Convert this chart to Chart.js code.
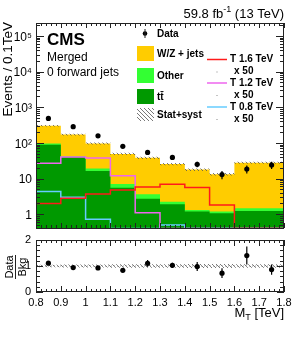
<!DOCTYPE html>
<html>
<head>
<meta charset="utf-8">
<script src="https://cdn.jsdelivr.net/npm/chart.js@4.4.2/dist/chart.umd.min.js"></script>
<style>
  html, body { margin: 0; padding: 0; background: #fff; }
  #wrap { position: relative; width: 299px; height: 337px; }
  #main { position: absolute; left: 0; top: 0; }
  #ratio { position: absolute; left: 0; top: 232px; }
</style>
</head>
<body>
<div id="wrap">
  <canvas id="main" width="299" height="232"></canvas>
  <canvas id="ratio" width="299" height="105"></canvas>
</div>
<script>
// bin edges and centres in M_T (TeV)
const edges = [0.8, 0.9, 1.0, 1.1, 1.2, 1.3, 1.4, 1.5, 1.6, 1.7, 1.8];
const centers = [0.85, 0.95, 1.05, 1.15, 1.25, 1.35, 1.45, 1.55, 1.65, 1.75];

// backgrounds (events / 0.1 TeV)
const ttbar = [160, 88, 40, 16.3, 5.5, 2.7, 1.9, 1.19, 1.07, 1.23];
const other = [14, 8, 2.5, 2.7, 1.5, 0.9, 0.35, 0.12, 0.12, 0.24];
const wzJets = [263, 207, 128, 77, 42, 34.4, 23.3, 16.5, 12.0, 26.3];
const bkgRelErr = [0.05, 0.05, 0.06, 0.06, 0.07, 0.07, 0.07, 0.08, 0.08, 0.07];

// data
const dataVals = [485, 285, 158, 80, 54, 39, 25, 12.9, 18.5, 24];
const dataErr = [22, 12, 8.5, 6, 6.5, 3.8, 4.4, 3.3, 4.6, 5.5];

// signals (already x 50)
const sigT16 = [1.1, 2.0, 2.8, 3.7, 4.8, 5.8, 6.9, 5.6, 1.8, 0.4];
const sigT12 = [16, 27, 40, 37.5, 11.9, 1.1, 0.4, 0.4, 0.4, 0.4];
const sigT08 = [19, 4.3, 3.0, 0.72, 0.4, 0.4, 0.5, 0.4, 0.4, 0.4];

const yDecades = [1, 10, 100, 1000, 10000, 100000];
const yDecadeLabels = ['1', '10', '10²', '10³', '10⁴', '10⁵'];
const ratioTicks = [0, 1, 2];

const FONT = "'Liberation Sans', Arial, sans-serif";
const C_WZ = '#ffcc00', C_OTHER = '#33ff33', C_TT = '#009900';
const C_T16 = '#ff1a1a', C_T12 = '#ee66ee', C_T08 = '#66ccff';

// cumulative stack
const stackOther = ttbar.map((v, i) => v + other[i]);
const stackTotal = stackOther.map((v, i) => v + wzJets[i]);
const ratioVals = dataVals.map((v, i) => v / stackTotal[i]);
const ratioErr = dataErr.map((v, i) => v / stackTotal[i]);

function steps(vals) {
  return edges.map((e, i) => ({ x: e, y: vals[Math.min(i, vals.length - 1)] }));
}
function hatch(ctx) {
  const c = document.createElement('canvas');
  c.width = 4; c.height = 4;
  const g = c.getContext('2d');
  g.strokeStyle = '#555';
  g.lineWidth = 0.8;
  g.beginPath();
  g.moveTo(-1, -1); g.lineTo(5, 5);
  g.moveTo(-1, 3); g.lineTo(1, 5);
  g.moveTo(3, -1); g.lineTo(5, 1);
  g.stroke();
  return ctx.createPattern(c, 'repeat');
}

function line(ctx, x1, y1, x2, y2) {
  ctx.beginPath(); ctx.moveTo(x1, y1); ctx.lineTo(x2, y2); ctx.stroke();
}

function drawXTicks(ctx, a, xs, majorLen, minorLen) {
  for (let i = 0; i <= 50; i++) {
    const px = Math.round(xs.getPixelForValue(0.8 + i * 0.02)) + 0.5;
    const len = i % 5 === 0 ? majorLen : minorLen;
    line(ctx, px, a.bottom, px, a.bottom - len);
    line(ctx, px, a.top, px, a.top + len);
  }
}

function drawErrBars(chart, vals, errs) {
  const ctx = chart.ctx, xs = chart.scales.x, ys = chart.scales.y;
  ctx.save();
  ctx.strokeStyle = '#000';
  ctx.lineWidth = 1.2;
  vals.forEach((v, i) => {
    const px = xs.getPixelForValue(centers[i]);
    line(ctx, px, ys.getPixelForValue(v + errs[i]), px, ys.getPixelForValue(v - errs[i]));
  });
  ctx.restore();
}

function fixedWidth(w) {
  return s => { s.width = w; s.paddingTop = 0; s.paddingBottom = 0; };
}

const mainDecor = {
  id: 'mainDecor',
  afterDatasetsDraw(chart) {
    drawErrBars(chart, dataVals, dataErr);
  },
  afterDraw(chart) {
    const ctx = chart.ctx, a = chart.chartArea, xs = chart.scales.x, ys = chart.scales.y;
    ctx.save();
    ctx.strokeStyle = '#222';
    ctx.lineWidth = 1;
    ctx.strokeRect(a.left + 0.5, a.top + 0.5, a.right - a.left - 1, a.bottom - a.top);
    // log ticks, left and right
    for (let d = 0.1; d <= 1e5; d *= 10) {
      for (let k = 1; k <= 9; k++) {
        const v = k * d;
        if (v < ys.min || v > ys.max) continue;
        const py = Math.round(ys.getPixelForValue(v)) + 0.5;
        const len = k === 1 ? 8 : 4;
        line(ctx, a.left, py, a.left + len, py);
        line(ctx, a.right, py, a.right - len, py);
      }
    }
    drawXTicks(ctx, a, xs, 5, 3);

    ctx.fillStyle = '#000';
    // y title
    ctx.save();
    ctx.translate(12, a.top - 1);
    ctx.rotate(-Math.PI / 2);
    ctx.font = '13.5px ' + FONT;
    ctx.textAlign = 'right';
    ctx.textBaseline = 'alphabetic';
    ctx.fillText('Events / 0.1TeV', 0, 0);
    ctx.restore();

    // lumi label
    ctx.textBaseline = 'alphabetic';
    ctx.textAlign = 'left';
    const big = '13px ' + FONT, small = '9px ' + FONT;
    ctx.font = big; const w1 = ctx.measureText('59.8 fb').width;
    ctx.font = small; const w2 = ctx.measureText('-1').width;
    ctx.font = big; const w3 = ctx.measureText(' (13 TeV)').width;
    let x0 = a.right - (w1 + w2 + w3);
    ctx.fillText('59.8 fb', x0, 18);
    ctx.font = small; ctx.fillText('-1', x0 + w1, 12);
    ctx.font = big; ctx.fillText(' (13 TeV)', x0 + w1 + w2, 18);

    // CMS label
    ctx.font = 'bold 17px ' + FONT;
    ctx.fillText('CMS', 47, 45);
    ctx.font = '12px ' + FONT;
    ctx.fillText('Merged', 47, 61);
    ctx.fillText('0 forward jets', 47, 76);

    // legend, left column
    ctx.font = 'bold 10px ' + FONT;
    ctx.textBaseline = 'middle';
    ctx.beginPath(); ctx.arc(145, 33.5, 2.3, 0, Math.PI * 2); ctx.fill();
    ctx.lineWidth = 1;
    line(ctx, 145, 29, 145, 38);
    ctx.fillText('Data', 157, 34);
    const boxes = [[C_WZ, 'W/Z + jets', 46], [C_OTHER, 'Other', 68], [C_TT, 't\u0074\u0304', 89]];
    boxes.forEach(([col, txt, y]) => {
      ctx.fillStyle = col;
      ctx.fillRect(137, y, 17, 15);
      ctx.fillStyle = '#000';
      ctx.fillText(txt, 157, y + 8);
    });
    ctx.fillStyle = hatch(ctx);
    ctx.fillRect(137, 108, 17, 13);
    ctx.fillStyle = '#000';
    ctx.fillText('Stat+syst', 157, 115.5);

    // legend, signals
    const sigs = [[C_T16, 'T 1.6 TeV', 59.5], [C_T12, 'T 1.2 TeV', 83], [C_T08, 'T 0.8 TeV', 107]];
    sigs.forEach(([col, txt, y]) => {
      ctx.strokeStyle = col;
      ctx.lineWidth = 1.5;
      line(ctx, 207, y, 227, y);
      ctx.fillStyle = '#000';
      ctx.fillText(txt, 230, y);
      ctx.fillText('x 50', 234, y + 12);
      ctx.fillStyle = '#888';
      ctx.fillRect(216.5, y + 12, 1, 1);
      ctx.fillStyle = '#000';
    });
    ctx.restore();
  }
};

const ratioDecor = {
  id: 'ratioDecor',
  afterDatasetsDraw(chart) {
    drawErrBars(chart, ratioVals, ratioErr);
  },
  afterDraw(chart) {
    const ctx = chart.ctx, a = chart.chartArea, xs = chart.scales.x, ys = chart.scales.y;
    ctx.save();
    ctx.strokeStyle = '#222';
    ctx.lineWidth = 1;
    ctx.strokeRect(a.left + 0.5, a.top + 0.5, a.right - a.left - 1, a.bottom - a.top - 1);
    for (let i = 0; i <= 10; i++) {
      const py = Math.round(ys.getPixelForValue(i * 0.2)) + 0.5;
      const len = i % 5 === 0 ? 7 : 4;
      line(ctx, a.left, py, a.left + len, py);
      line(ctx, a.right, py, a.right - len, py);
    }
    drawXTicks(ctx, a, xs, 6, 3);

    ctx.fillStyle = '#000';
    // ratio title
    ctx.save();
    ctx.translate(15, (a.top + a.bottom) / 2 + 1);
    ctx.rotate(-Math.PI / 2);
    ctx.font = '11px ' + FONT;
    ctx.textAlign = 'center';
    ctx.textBaseline = 'alphabetic';
    ctx.fillText('Data', 0, -2);
    ctx.textBaseline = 'top';
    ctx.fillText('Bkg', 0, 2);
    ctx.lineWidth = 1;
    line(ctx, -12, 0.5, 12, 0.5);
    ctx.restore();

    // x title
    ctx.textBaseline = 'alphabetic';
    ctx.textAlign = 'left';
    const big = '13px ' + FONT, small = '9px ' + FONT;
    ctx.font = big; const wM = ctx.measureText('M').width;
    ctx.font = small; const wT = ctx.measureText('T').width;
    ctx.font = big; const wR = ctx.measureText(' [TeV]').width;
    const x0 = a.right - (wM + wT + wR);
    const yb = 85;
    ctx.fillText('M', x0, yb);
    ctx.font = small; ctx.fillText('T', x0 + wM, yb + 3);
    ctx.font = big; ctx.fillText(' [TeV]', x0 + wM + wT, yb);
    ctx.restore();
  }
};

const xScaleBase = {
  type: 'linear', min: 0.8, max: 1.8,
  grid: { display: false }
};

const mainCtx = document.getElementById('main').getContext('2d');
const bandPattern = hatch(mainCtx);

new Chart(mainCtx, {
  type: 'line',
  data: {
    datasets: [
      { label: 'Data', data: centers.map((c, i) => ({ x: c, y: dataVals[i] })), showLine: false,
        pointRadius: 2.6, pointBackgroundColor: '#000', pointBorderWidth: 0, order: 0 },
      { label: 'T 1.6 TeV', data: steps(sigT16), stepped: 'after', borderColor: C_T16, borderWidth: 1.5, pointRadius: 0, fill: false, order: 1 },
      { label: 'T 1.2 TeV', data: steps(sigT12), stepped: 'after', borderColor: C_T12, borderWidth: 1.5, pointRadius: 0, fill: false, order: 2 },
      { label: 'T 0.8 TeV', data: steps(sigT08), stepped: 'after', borderColor: C_T08, borderWidth: 1.5, pointRadius: 0, fill: false, order: 3 },
      { label: 'Stat+syst', data: steps(stackTotal.map((v, i) => v * (1 + bkgRelErr[i]))), stepped: 'after',
        borderWidth: 0, pointRadius: 0, fill: '+1', backgroundColor: bandPattern, order: 4 },
      { label: 'band low', data: steps(stackTotal.map((v, i) => v * (1 - bkgRelErr[i]))), stepped: 'after',
        borderWidth: 0, pointRadius: 0, fill: false, order: 5 },
      { label: 'tt', data: steps(ttbar), stepped: 'after', borderWidth: 0, pointRadius: 0,
        fill: 'start', backgroundColor: C_TT, order: 6 },
      { label: 'Other', data: steps(stackOther), stepped: 'after', borderWidth: 0, pointRadius: 0,
        fill: 'start', backgroundColor: C_OTHER, order: 7 },
      { label: 'W/Z + jets', data: steps(stackTotal), stepped: 'after', borderWidth: 0, pointRadius: 0,
        fill: 'start', backgroundColor: C_WZ, order: 8 }
    ]
  },
  options: {
    responsive: false, animation: false, devicePixelRatio: 1,
    layout: { padding: { left: 0, right: 15, top: 23, bottom: 2 } },
    plugins: { legend: { display: false }, tooltip: { enabled: false } },
    scales: {
      x: Object.assign({}, xScaleBase, { display: false }),
      y: {
        type: 'logarithmic', min: 0.41, max: 2.3e5,
        grid: { display: false, drawTicks: false },
        border: { display: false },
        afterBuildTicks: s => { s.ticks = yDecades.map(v => ({ value: v })); },
        afterFit: fixedWidth(36),
        ticks: {
          padding: 4, labelOffset: 1.5, color: '#000', font: { family: FONT, size: 12 },
          callback: v => yDecadeLabels[yDecades.indexOf(v)] ?? ''
        }
      }
    }
  },
  plugins: [mainDecor]
});

const ratioCtx = document.getElementById('ratio').getContext('2d');
new Chart(ratioCtx, {
  type: 'line',
  data: {
    datasets: [
      { label: 'Data/Bkg', data: centers.map((c, i) => ({ x: c, y: ratioVals[i] })), showLine: false,
        pointRadius: 2.6, pointBackgroundColor: '#000', pointBorderWidth: 0, order: 0 },
      { label: 'unity', data: [{ x: 0.8, y: 1 }, { x: 1.8, y: 1 }], borderColor: '#999', borderWidth: 1,
        borderDash: [1, 2], pointRadius: 0, fill: false, order: 1 },
      { label: 'band up', data: steps(bkgRelErr.map(e => 1 + e)), stepped: 'after', borderWidth: 0,
        pointRadius: 0, fill: '+1', backgroundColor: hatch(ratioCtx), order: 2 },
      { label: 'band low', data: steps(bkgRelErr.map(e => 1 - e)), stepped: 'after', borderWidth: 0,
        pointRadius: 0, fill: false, order: 3 }
    ]
  },
  options: {
    responsive: false, animation: false, devicePixelRatio: 1,
    layout: { padding: { left: 0, right: 15, top: 8, bottom: 0 } },
    plugins: { legend: { display: false }, tooltip: { enabled: false } },
    scales: {
      x: Object.assign({}, xScaleBase, {
        border: { display: false },
        grid: { display: false, drawTicks: false },
        afterBuildTicks: s => { s.ticks = edges.map(v => ({ value: v })); },
        afterFit: s => { s.height = 45; s.paddingLeft = 0; s.paddingRight = 0; },
        ticks: { padding: 4, maxRotation: 0, autoSkip: false, color: '#000', font: { family: FONT, size: 11 },
          callback: v => String(+v.toFixed(1)) }
      }),
      y: {
        type: 'linear', min: 0, max: 2,
        grid: { display: false, drawTicks: false },
        border: { display: false },
        afterBuildTicks: s => { s.ticks = ratioTicks.map(v => ({ value: v })); },
        afterFit: fixedWidth(36),
        ticks: { padding: 5, color: '#000', font: { family: FONT, size: 11 } }
      }
    }
  },
  plugins: [ratioDecor]
});
</script>
</body>
</html>
